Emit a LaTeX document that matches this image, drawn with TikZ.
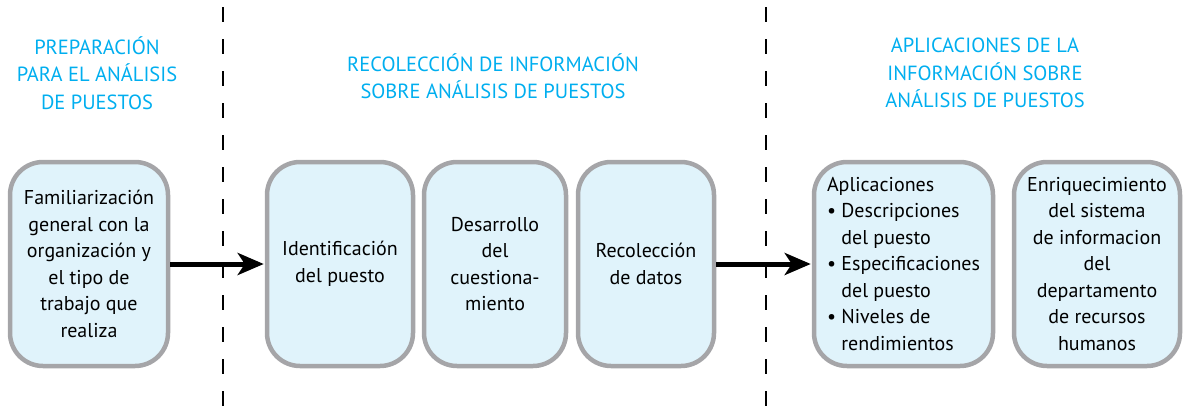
\documentclass[tikz,border=0pt]{standalone}
\usepackage{fontspec}
\setmainfont{PT Sans}
\usetikzlibrary{arrows.meta}
\definecolor{hdr}{RGB}{0,174,239}
\definecolor{boxfill}{RGB}{224,243,251}
\definecolor{boxdraw}{RGB}{165,165,168}
\tikzset{
  box/.style={draw=boxdraw, fill=boxfill, line width=4.5pt, rounded corners=33pt,
    minimum height=204pt, inner sep=0pt, align=center, text=black,
    font=\fontsize{20}{26.5}\selectfont},
  header/.style={text=hdr, align=center, font=\fontsize{20.5}{27.5}\selectfont},
  arr/.style={line width=5pt, -{Stealth[length=26pt,width=22pt,inset=7pt]}},
  divider/.style={line width=1.4pt, dash pattern=on 15pt off 17pt}
}
\begin{document}
\begin{tikzpicture}[x=1pt,y=-1pt]
\useasboundingbox (0,0) rectangle (1188,407);
% dividers
\coordinate (d1t) at (223,7); \coordinate (d1b) at (223,407);
\coordinate (d2t) at (766,7); \coordinate (d2b) at (766,407);
\draw[divider] (d1t) -- (d1b);
\draw[divider] (d2t) -- (d2b);
% headers
\node[header] (h1) at (97,73) {PREPARACIÓN\\PARA EL ANÁLISIS\\DE PUESTOS};
\node[header] (h2) at (493,76) {RECOLECCIÓN DE INFORMACIÓN\\SOBRE ANÁLISIS DE PUESTOS};
\node[header] (h3) at (985,73) {APLICACIONES DE LA\\INFORMACIÓN SOBRE\\ANÁLISIS DE PUESTOS};
% boxes
\node[box, minimum width=158pt] (b1) at (89,264) {Familiarización\\general con la\\organización y\\el tipo de\\trabajo que\\realiza};
\node[box, minimum width=146pt] (b2) at (340,264) {Identificación\\del puesto};
\node[box, minimum width=142pt] (b3) at (495,264) {Desarrollo\\del\\cuestiona-\\miento};
\node[box, minimum width=136pt] (b4) at (646,264) {Recolección\\de datos};
\node[box, minimum width=179pt, align=left] (b5) at (903.5,264) {Aplicaciones\\\textbullet\ Descripciones\\\phantom{\textbullet\ }del puesto\\\textbullet\ Especificaciones\\\phantom{\textbullet\ }del puesto\\\textbullet\ Niveles de\\\phantom{\textbullet\ }rendimientos};
\node[box, minimum width=166pt] (b6) at (1097,264) {Enriquecimiento\\del sistema\\de informacion\\del\\departamento\\de recursos\\humanos};
% arrows
\draw[arr] (b1.east) -- ([xshift=-1pt]b2.west);
\draw[arr] (b4.east) -- ([xshift=-1pt]b5.west);
\end{tikzpicture}
\end{document}
